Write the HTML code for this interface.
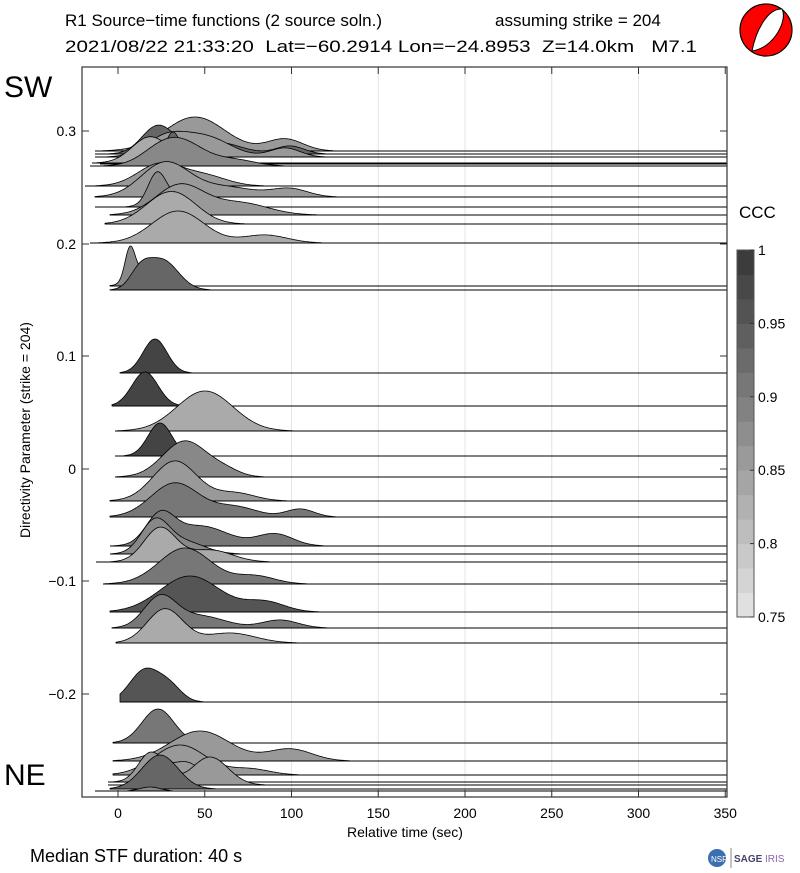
<!DOCTYPE html>
<html><head><meta charset="utf-8"><style>
body{margin:0;background:#fff;}
svg{display:block;font-family:"Liberation Sans",sans-serif;}
</style></head><body>
<svg id="s" width="800" height="873" xmlns="http://www.w3.org/2000/svg">
<rect width="800" height="873" fill="#fff"/>
<text x="65" y="26" font-size="17">R1 Source−time functions (2 source soln.)</text>
<text x="495" y="26" font-size="17">assuming strike = 204</text>
<text x="65" y="52" font-size="17" xml:space="preserve" textLength="632" lengthAdjust="spacingAndGlyphs">2021/08/22 21:33:20  Lat=−60.2914 Lon=−24.8953  Z=14.0km   M7.1</text>
<text x="4" y="97" font-size="30">SW</text>
<text x="4" y="785" font-size="30">NE</text>
<g id="grid" stroke="#e4e4e4" stroke-width="1"></g>
<g id="tr"></g>
<rect x="82" y="67" width="645" height="730" fill="none" stroke="#333" stroke-width="1.2"/>
<g id="ax" font-size="14"></g>
<text x="405" y="837" font-size="14" text-anchor="middle">Relative time (sec)</text>
<text x="30" y="430" font-size="14" text-anchor="middle" transform="rotate(-90 30 430)">Directivity Parameter (strike = 204)</text>
<text x="30" y="862" font-size="18">Median STF duration: 40 s</text>
<text x="739" y="218" font-size="17">CCC</text>
<g id="cb"></g>
<g transform="translate(766,30)">
<circle r="26" fill="#f00" stroke="#000" stroke-width="1.2"/>
<path d="M-14,21 C-10,0 2,-22 16,-21 C22,-10 8,18 -14,21Z" fill="#fff" stroke="#000" stroke-width="1"/>
</g>
<circle cx="717" cy="858" r="9" fill="#3a6fb0"/><text x="711" y="862" font-size="8" fill="#fff">NSF</text>
<line x1="731" y1="848" x2="731" y2="868" stroke="#888"/>
<text x="734" y="862" font-size="10" font-weight="bold" fill="#446">SAGE</text><text x="765" y="862" font-size="10" fill="#86a">IRIS</text>
</svg>
<script>
(function(){
const NS="http://www.w3.org/2000/svg";
function el(p,t,a,txt){const e=document.createElementNS(NS,t);for(const k in a)e.setAttribute(k,a[k]);if(txt!==undefined)e.textContent=txt;p.appendChild(e);return e;}
const X=t=>118+1.735*t;
const grid=document.getElementById('grid'),ax=document.getElementById('ax');
for(let t=0;t<=350;t+=50){const x=X(t);
 if(t>=100&&t<350)el(grid,'line',{x1:x,y1:67,x2:x,y2:797});
 el(ax,'line',{x1:x,y1:797,x2:x,y2:790,stroke:'#333'});el(ax,'line',{x1:x,y1:67,x2:x,y2:74,stroke:'#333'});
 el(ax,'text',{x:x,y:818,'text-anchor':'middle'},String(t));}
const yt=[[0.3,131],[0.2,244],[0.1,356],[0,469],[-0.1,581],[-0.2,694]];
for(const[v,y]of yt){el(ax,'line',{x1:82,y1:y,x2:89,y2:y,stroke:'#333'});el(ax,'line',{x1:727,y1:y,x2:720,y2:y,stroke:'#333'});
 el(ax,'text',{x:76,y:y+5,'text-anchor':'end'},(v<0?'−':'')+(v===0?'0':Math.abs(v).toString()));}
const T=[
[151,95,[[195,30,34],[285,18,12]],'#999'],
[154,95,[[158,16,28],[215,25,12],[290,14,8]],'#666'],
[157,95,[[165,20,18],[205,25,20],[285,15,9]],'#999'],
[163,92,[[150,18,26],[200,20,6]],'#aaa'],
[164,100,[[173,8,32]],'#666'],
[166,90,[[160,20,14],[185,22,20],[235,20,6]],'#888'],
[186,85,[[160,22,22],[205,22,10]],'#999'],
[197,95,[[165,24,34],[225,30,10],[290,18,8]],'#999'],
[207,95,[[157,9,30],[180,20,10]],'#888'],
[215,110,[[180,24,30],[240,28,12]],'#999'],
[224,105,[[160,22,16],[180,22,20]],'#aaa'],
[243,90,[[178,26,32],[265,22,8]],'#aaa'],
[286,110,[[130,5,32],[148,14,18]],'#888'],
[290,110,[[140,10,16],[162,16,30]],'#666'],
[373,120,[[155,12,34]],'#444'],
[406,112,[[145,13,34]],'#444'],
[431,115,[[205,28,40]],'#aaa'],
[456,115,[[160,12,33]],'#444'],
[477,115,[[185,22,36],[225,15,6]],'#888'],
[501,110,[[175,22,40],[235,20,8]],'#999'],
[517,110,[[175,24,34],[235,22,10],[300,14,8]],'#777'],
[546,110,[[160,14,28],[200,28,20],[275,18,12]],'#777'],
[554,110,[[155,14,32],[185,20,12]],'#888'],
[562,96,[[160,16,34],[210,22,12]],'#aaa'],
[584,103,[[185,26,36],[255,20,8]],'#777'],
[612,110,[[190,30,36],[265,20,10]],'#555'],
[628,112,[[160,16,30],[200,25,12],[280,18,8]],'#777'],
[643,116,[[165,18,34],[230,25,10]],'#aaa'],
[702,120,[[145,15,32],[170,12,14]],'#555'],
[743,113,[[158,16,34]],'#777'],
[761,113,[[200,30,30],[290,22,12]],'#999'],
[775,113,[[180,26,30],[250,20,6]],'#999'],
[782,108,[[150,12,28],[185,16,20]],'#999'],
[785,108,[[158,12,24],[210,18,28]],'#999'],
[789,110,[[160,18,34]],'#666'],
[791,95,[[150,10,4]],'#888']
];
const tr=document.getElementById('tr');
for(const[b,s,c,f]of T){
 let d='M'+s+','+b;
 for(let x=s;x<=727;x+=1){let h=0;for(const[cx,sg,hh]of c){h+=hh*Math.exp(-((x-cx)**2)/(2*sg*sg));}
  if(h<0.3)h=0;d+=' L'+x+','+(b-h).toFixed(1);}
 d+=' L727,'+b+'Z';
 el(tr,'path',{d:d,fill:f,stroke:'#000','stroke-width':0.8});
 el(tr,'line',{x1:s,y1:b,x2:727,y2:b,stroke:'#000','stroke-width':1});
}
const cb=document.getElementById('cb');
const n=15,cTop=250,cBot=617,hh=(cBot-cTop)/n;
for(let i=0;i<n;i++){const g=Math.round(224-i*(224-60)/(n-1));
 el(cb,'rect',{x:737,y:cBot-(i+1)*hh,width:17,height:hh+0.5,fill:'rgb('+g+','+g+','+g+')'});}
el(cb,'rect',{x:737,y:cTop,width:17,height:cBot-cTop,fill:'none',stroke:'#555'});
[[1,'1'],[0.95,'0.95'],[0.9,'0.9'],[0.85,'0.85'],[0.8,'0.8'],[0.75,'0.75']].forEach(function(a){
 const y=cBot-(a[0]-0.75)/0.25*(cBot-cTop);el(cb,'line',{x1:750,y1:y,x2:754,y2:y,stroke:'#333'});
 el(cb,'text',{x:758,y:y+5,'font-size':14},a[1]);});
})();
</script>
</body></html>
